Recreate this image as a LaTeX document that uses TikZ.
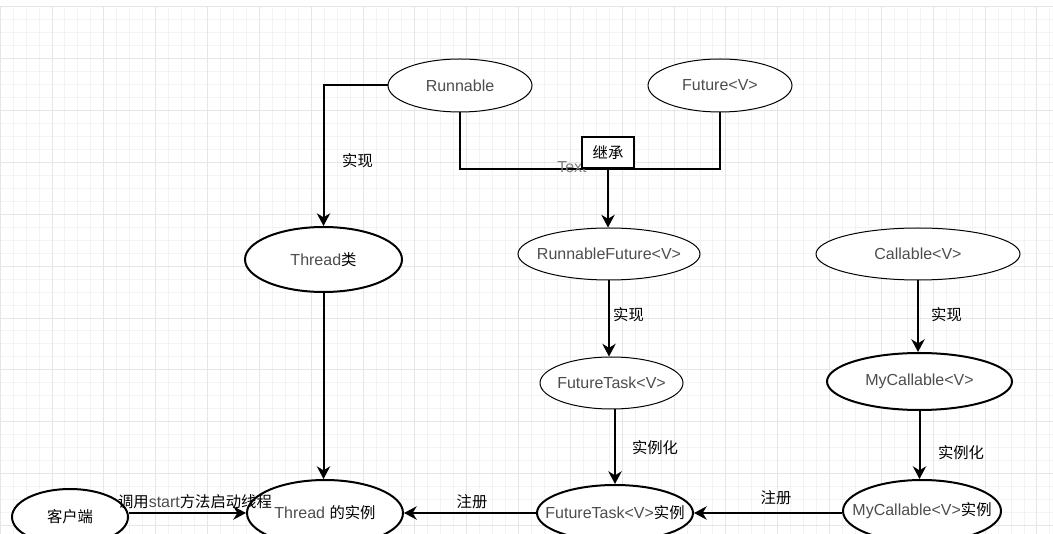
\documentclass[tikz,border=0pt]{standalone}
\usepackage{fontspec}
\setmainfont{Liberation Sans}
\newfontfamily\cjk{Noto Sans CJK SC}
\usetikzlibrary{shapes.geometric,arrows.meta,calc}
\definecolor{gmin}{HTML}{F3F3F3}
\definecolor{gmaj}{HTML}{E6E6E6}
\definecolor{lat}{HTML}{4D4D4D}
\definecolor{txtgray}{HTML}{808080}
\newcommand\zh[1]{{\cjk\fontsize{11.5pt}{14pt}\selectfont\color{black}#1}}
\newcommand\boxlbl[1]{\makebox[0pt]{#1}}
\pgfdeclarelayer{bg}
\pgfsetlayers{bg,main}
\begin{document}
\begin{tikzpicture}[x=0.75pt,y=-0.75pt,
  sz/.style 2 args={minimum width=#1*0.75pt, minimum height=#2*0.75pt},
  ell/.style={ellipse, draw=black, fill=white, inner sep=0pt, line width=0.75pt, text=lat, font=\fontsize{12pt}{14pt}\selectfont},
  boldell/.style={ell, line width=1.5pt},
  conn/.style={line width=1.5pt, draw=black},
  arr/.style={conn, -{Stealth[length=9.5pt,width=10pt,inset=3pt]}},
  elbl/.style={font=\cjk\fontsize{11.5pt}{14pt}\selectfont, text=black, inner sep=0pt},
  gridmin/.style={draw=gmin, line width=0.75pt},
  gridmaj/.style={draw=gmaj, line width=0.75pt}
]
\useasboundingbox (0,0) rectangle (1053,534);
\begin{pgfonlayer}{bg}
  \fill[white] (0,0) rectangle (1053,534);
  \foreach \j in {0,...,81} \draw[gridmin] ({0.16+12.96*\j},7) -- ({0.16+12.96*\j},534);
  \foreach \j in {0,...,40} \draw[gridmin] (0,{7+12.96*\j}) -- (1053,{7+12.96*\j});
  \foreach \j in {0,...,20} \draw[gridmaj] ({0.16+51.84*\j},7) -- ({0.16+51.84*\j},534);
  \foreach \j in {0,...,10} \draw[gridmaj] (0,{7+51.84*\j}) -- (1053,{7+51.84*\j});
\end{pgfonlayer}

% nodes
\node[ell, sz={144}{53}] (run) at (460,85.5) {\boxlbl{Runnable}};
\node[ell, sz={144}{53}] (fut) at (720,85.5) {\boxlbl{Future<V>}};
\node[boldell, sz={157}{65}] (thc) at (323.5,259.5) {\boxlbl{Thread\zh{类}}};
\node[ell, sz={182}{52}] (rf) at (609,254) {\boxlbl{RunnableFuture<V>}};
\node[ell, sz={204}{52}] (cal) at (918,254) {\boxlbl{Callable<V>}};
\node[ell, sz={143}{52}] (ft) at (611.5,383) {\boxlbl{FutureTask<V>}};
\node[boldell, sz={185}{57}] (myc) at (919.5,381.5) {\boxlbl{MyCallable<V>}};
\node[boldell, sz={156}{66}] (thi) at (325,513) {\boxlbl{Thread \zh{的实例}}};
\node[boldell, sz={156}{56}] (fti) at (615,513) {\boxlbl{FutureTask<V>\zh{实例}}};
\node[boldell, sz={158}{62}] (myi) at (922,511) {\boxlbl{MyCallable<V>\zh{实例}}};
\node[boldell, sz={116}{56}] (cli) at (70,517) {\boxlbl{\zh{客户端}}};

\node[text=txtgray, font=\fontsize{12pt}{14pt}\selectfont, inner sep=0pt] (ttext) at (572,167) {Text};
\node[draw=black, fill=white, line width=1.5pt, sz={52}{31}, inner sep=0pt, font=\cjk\fontsize{11.5pt}{14pt}\selectfont] (inh) at (608,152.5) {继承};

% edge labels
\node[elbl] (l1) at (357.5,161) {实现};
\node[elbl] (l2) at (628.5,315) {实现};
\node[elbl] (l3) at (946.5,315) {实现};
\node[elbl] (l4) at (655,448) {实例化};
\node[elbl] (l5) at (961,453) {实例化};
\node[elbl] (l6) at (472,502) {注册};
\node[elbl] (l7) at (776,498) {注册};
\node[inner sep=0pt, font=\fontsize{12pt}{14pt}\selectfont] (l8) at (195,502) {\zh{调用}{\color{lat}start}\zh{方法启动线程}};

% connectors
\begin{pgfonlayer}{bg}
  \draw[arr] (run.west) -| (thc.north);
  \draw[arr] (thc.south) -- (thc.south |- thi.north);
  \draw[conn] (run.south) |- (inh.south);
  \draw[conn] (fut.south) |- (inh.south);
  \draw[arr] (inh.south) -- (inh.south |- rf.north);
  \draw[arr] (rf.south) -- (rf.south |- ft.north);
  \draw[arr] (cal.south) -- (cal.south |- myc.north);
  \draw[arr] (fti.north |- ft.south) -- (fti.north);
  \draw[arr] (myc.south) -- (myc.south |- myi.north);
  \draw[arr] (myi.west |- fti.east) -- (fti.east);
  \draw[arr] (fti.west) -- (thi.east);
  \draw[arr] (cli.east |- thi.west) -- (thi.west);
\end{pgfonlayer}
\end{tikzpicture}
\end{document}
